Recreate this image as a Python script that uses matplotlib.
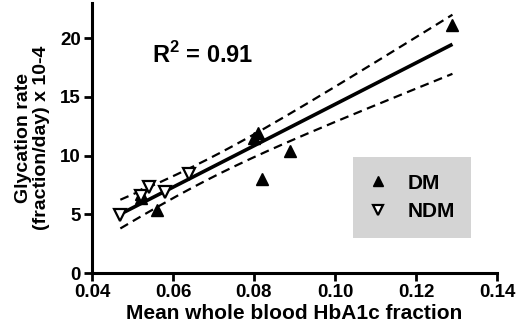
import numpy as np
import matplotlib
matplotlib.use("Agg")
import matplotlib.pyplot as plt
from matplotlib.lines import Line2D

# values
dm_x = [0.052, 0.052, 0.056, 0.080, 0.081, 0.082, 0.089, 0.129]
dm_y = [6.4, 6.7, 5.4, 11.5, 11.9, 8.0, 10.4, 21.1]
ndm_x = [0.047, 0.052, 0.054, 0.058, 0.064]
ndm_y = [4.9, 6.6, 7.3, 6.9, 8.4]

x_ticks = [0.04, 0.06, 0.08, 0.10, 0.12, 0.14]
x_ticklabels = ["0.04", "0.06", "0.08", "0.10", "0.12", "0.14"]
y_ticks = [0, 5, 10, 15, 20]

plt.rcParams["font.family"] = ["Liberation Sans", "DejaVu Sans"]
plt.rcParams["font.weight"] = "bold"
plt.rcParams["mathtext.fontset"] = "custom"
plt.rcParams["mathtext.bf"] = "Liberation Sans:bold"
plt.rcParams["mathtext.rm"] = "Liberation Sans:bold"

# linear regression with 95% confidence band
x_all = np.array(dm_x + ndm_x)
y_all = np.array(dm_y + ndm_y)
n = len(x_all)
slope, intercept = np.polyfit(x_all, y_all, 1)
resid = y_all - (slope * x_all + intercept)
s = np.sqrt(np.sum(resid ** 2) / (n - 2))
t_crit = 2.201  # t(0.975, df=11)
xf = np.linspace(x_all.min(), x_all.max(), 200)
yf = slope * xf + intercept
sxx = np.sum((x_all - x_all.mean()) ** 2)
band = t_crit * s * np.sqrt(1.0 / n + (xf - x_all.mean()) ** 2 / sxx)

fig = plt.figure(figsize=(5.2, 3.35), dpi=100)
ax = fig.add_axes([92 / 520, 62 / 335, 405 / 520, 270 / 335])

ax.plot(xf, yf, color="black", lw=2.6, solid_capstyle="butt", zorder=2)
ax.plot(xf, yf + band, color="black", lw=1.6, ls=(0, (4, 2.5)), zorder=2)
ax.plot(xf, yf - band, color="black", lw=1.6, ls=(0, (4, 2.5)), zorder=2)

ax.plot(dm_x, dm_y, ls="none", marker="^", ms=8, color="black", zorder=3)
ax.plot(ndm_x, ndm_y, ls="none", marker="v", ms=8, mfc="white",
        mec="black", mew=1.6, zorder=3)

ax.text(0.0548, 18.6, r"R$^\mathrm{2}$ = 0.91", fontsize=17, fontweight="bold",
        va="center", ha="left")

ax.set_xlim(0.04, 0.14)
ax.set_ylim(0, 23)
ax.set_xticks(x_ticks)
ax.set_xticklabels(x_ticklabels)
ax.set_yticks(y_ticks)

for side in ["top", "right"]:
    ax.spines[side].set_visible(False)
for side in ["left", "bottom"]:
    ax.spines[side].set_linewidth(2.2)
ax.tick_params(direction="out", length=6, width=2, labelsize=13.5, pad=2)
for lab in ax.get_xticklabels() + ax.get_yticklabels():
    lab.set_fontweight("bold")

ax.set_xlabel("Mean whole blood HbA1c fraction", fontsize=15,
              fontweight="bold", labelpad=2)
ax.set_ylabel("Glycation rate\n(fraction/day) x 10-4", fontsize=14,
              fontweight="bold", labelpad=7, linespacing=1.1)

handles = [
    Line2D([], [], ls="none", marker="^", ms=6.5, color="black"),
    Line2D([], [], ls="none", marker="v", ms=6.5, mfc="white", mec="black", mew=1.6),
]
leg = ax.legend(handles, ["DM", "NDM"], loc="upper left",
                bbox_to_anchor=(261 / 405, (273 - 157) / 270),
                frameon=True, fancybox=False, facecolor="#d4d4d4",
                edgecolor="none", framealpha=1, prop={"size": 15, "weight": "bold"},
                borderpad=0.8, handletextpad=1.0, labelspacing=0.45,
                borderaxespad=0, handlelength=0.8)
leg.get_frame().set_linewidth(0)

fig.savefig("out.png", dpi=100)
